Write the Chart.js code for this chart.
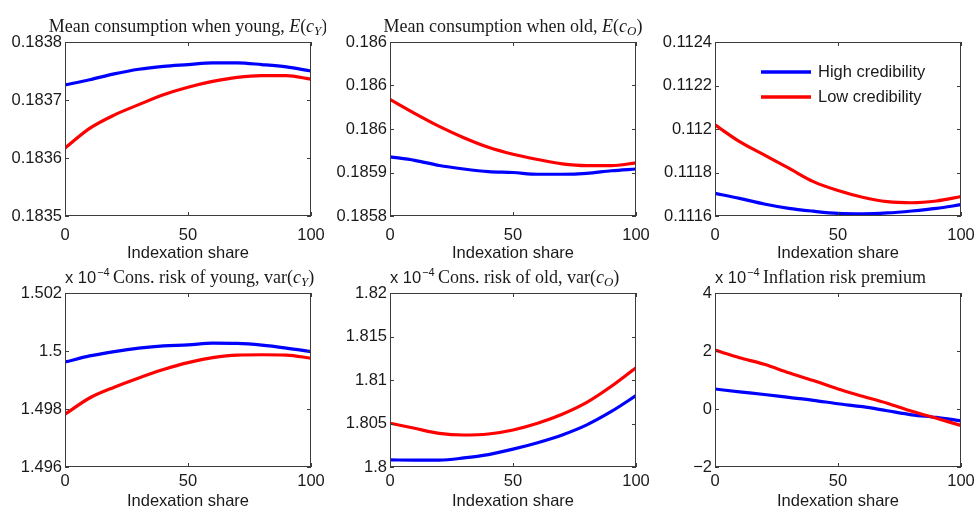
<!DOCTYPE html>
<html>
<head>
<meta charset="utf-8">
<script src="https://cdn.jsdelivr.net/npm/chart.js@4"></script>
<style>
  html, body { margin: 0; padding: 0; background: #fff; overflow: hidden; }
  #wrap { position: relative; width: 975px; height: 506px; }
  canvas { position: absolute; }
</style>
</head>
<body>
<div id="wrap">
  <canvas id="c1"></canvas>
  <canvas id="c2"></canvas>
  <canvas id="c3"></canvas>
  <canvas id="c4"></canvas>
  <canvas id="c5"></canvas>
  <canvas id="c6"></canvas>
</div>
<script>
// Indexation share (x axis)
const xShare = [0, 10, 20, 30, 40, 50, 60, 70, 80, 90, 100];
const xTicks = [0, 50, 100];

// Mean consumption when young
const youngMeanHigh = [0.183726, 0.183735, 0.183745, 0.183753, 0.183758, 0.183761, 0.183764, 0.183764, 0.183761, 0.183757, 0.183750];
const youngMeanLow = [0.183617, 0.183651, 0.183674, 0.183692, 0.183709, 0.183722, 0.183732, 0.183739, 0.183742, 0.183742, 0.183736];
const youngMeanTicks = [0.1835, 0.1836, 0.1837, 0.1838];
const youngMeanLabels = ["0.1835", "0.1836", "0.1837", "0.1838"];

// Mean consumption when old
const oldMeanHigh = [0.185868, 0.185864, 0.185858, 0.185854, 0.185851, 0.185850, 0.185848, 0.185848, 0.185849, 0.185852, 0.185854];
const oldMeanLow = [0.185934, 0.185918, 0.185903, 0.185890, 0.185879, 0.185871, 0.185865, 0.185860, 0.185858, 0.185858, 0.185861];
const oldMeanTicks = [0.1858, 0.18585, 0.1859, 0.18595, 0.186];
const oldMeanLabels = ["0.1858", "0.1859", "0.186", "0.186", "0.186"];

// Third panel (no title)
const thirdHigh = [0.111704, 0.111681, 0.111655, 0.111635, 0.111622, 0.111612, 0.111610, 0.111614, 0.111623, 0.111635, 0.111652];
const thirdLow = [0.112019, 0.111942, 0.111881, 0.111820, 0.111758, 0.111717, 0.111686, 0.111666, 0.111661, 0.111669, 0.111689];
const thirdTicks = [0.1116, 0.1118, 0.112, 0.1122, 0.1124];
const thirdLabels = ["0.1116", "0.1118", "0.112", "0.1122", "0.1124"];

// Cons. risk of young (x 10^-4)
const youngRiskHigh = [1.49962, 1.49983, 1.49998, 1.50010, 1.50018, 1.50021, 1.50027, 1.50026, 1.50020, 1.50010, 1.49998];
const youngRiskLow = [1.49782, 1.49838, 1.49875, 1.49907, 1.49936, 1.49960, 1.49977, 1.49986, 1.49987, 1.49986, 1.49975];
const youngRiskTicks = [1.496, 1.498, 1.5, 1.502];
const youngRiskLabels = ["1.496", "1.498", "1.5", "1.502"];

// Cons. risk of old (x 10^-4)
const oldRiskHigh = [1.80081, 1.80080, 1.80080, 1.80104, 1.80143, 1.80205, 1.80279, 1.80368, 1.80484, 1.80638, 1.80820];
const oldRiskLow = [1.80503, 1.80445, 1.80387, 1.80368, 1.80379, 1.80426, 1.80503, 1.80607, 1.80743, 1.80928, 1.81141];
const oldRiskTicks = [1.8, 1.805, 1.81, 1.815, 1.82];
const oldRiskLabels = ["1.8", "1.805", "1.81", "1.815", "1.82"];

// Inflation risk premium (x 10^-4)
const premiumHigh = [0.69, 0.59, 0.50, 0.40, 0.30, 0.18, 0.08, -0.06, -0.20, -0.29, -0.41];
const premiumLow = [2.03, 1.77, 1.54, 1.25, 0.98, 0.69, 0.44, 0.20, -0.08, -0.32, -0.57];
const premiumTicks = [-2, 0, 2, 4];
const premiumLabels = ["\u22122", "0", "2", "4"];

const seriesNames = ["High credibility", "Low credibility"];
const BLUE = "#0000ff";
const RED = "#ff0000";
const INK = "#1a1a1a";
const BOX = "#3c3c3c";
const SANS = "'Liberation Sans', Arial, sans-serif";
const SERIF = "'Liberation Serif', 'Times New Roman', serif";

// draws the box, inward ticks, the title and the key
const panelDecor = {
  id: "panelDecor",
  afterDraw(chart, args, opts) {
    const { ctx, chartArea: a, scales: { x, y } } = chart;
    ctx.save();
    ctx.strokeStyle = BOX;
    ctx.lineWidth = 1;
    ctx.beginPath();
    x.ticks.forEach(t => {
      const px = Math.round(x.getPixelForValue(t.value)) + 0.5;
      ctx.moveTo(px, a.bottom); ctx.lineTo(px, a.bottom - 4);
      ctx.moveTo(px, a.top); ctx.lineTo(px, a.top + 4);
    });
    y.ticks.forEach(t => {
      const py = Math.round(y.getPixelForValue(t.value)) + 0.5;
      ctx.moveTo(a.left, py); ctx.lineTo(a.left + 4, py);
      ctx.moveTo(a.right, py); ctx.lineTo(a.right - 4, py);
    });
    ctx.stroke();
    ctx.strokeRect(Math.round(a.left) + 0.5, Math.round(a.top) + 0.5, Math.round(a.width) - 1, Math.round(a.height) - 1);

    // title
    const base = a.top - 10;
    ctx.fillStyle = INK;
    ctx.textBaseline = "alphabetic";
    let tx;
    if (opts.exponent) {
      ctx.font = "16.5px " + SANS;
      ctx.fillText("x 10", a.left, base);
      const w = ctx.measureText("x 10").width;
      ctx.font = "11px " + SANS;
      ctx.fillText("\u22124", a.left + w + 1, base - 7);
      tx = a.left + 48;
    }
    const segs = opts.title || [];
    const fontFor = s => s[1] === "i" ? "italic 18px " + SERIF : s[1] === "s" ? "italic 13px " + SERIF : "18px " + SERIF;
    let total = 0;
    segs.forEach(s => { ctx.font = fontFor(s); total += ctx.measureText(s[0]).width; });
    if (tx === undefined) tx = (a.left + a.right) / 2 - total / 2;
    segs.forEach(s => {
      ctx.font = fontFor(s);
      ctx.fillText(s[0], tx, s[1] === "s" ? base + 3 : base);
      tx += ctx.measureText(s[0]).width;
    });

    // key
    if (opts.key) {
      ctx.font = "16.5px " + SANS;
      ctx.textBaseline = "middle";
      chart.data.datasets.forEach((ds, i) => {
        const ly = a.top + 30 + i * 25;
        const lx = a.left + 46;
        ctx.strokeStyle = ds.borderColor;
        ctx.lineWidth = 3.5;
        ctx.beginPath(); ctx.moveTo(lx, ly); ctx.lineTo(lx + 50, ly); ctx.stroke();
        ctx.fillStyle = INK;
        ctx.fillText(ds.label, lx + 57, ly);
      });
    }
    ctx.restore();
  }
};

function makePanel(id, left, top, high, low, ticks, labels, title, extra) {
  extra = extra || {};
  const plotW = 246, plotH = 174;
  const bottomH = extra.row2 ? 44 : 47;
  const tickPad = extra.row2 ? 5 : 10;
  const canvas = document.getElementById(id);
  canvas.width = 65 + plotW + 15;
  canvas.height = 42 + plotH + bottomH;
  canvas.style.left = (left - 65) + "px";
  canvas.style.top = (top - 42) + "px";
  const pts = vals => xShare.map((xv, i) => ({ x: xv, y: vals[i] }));
  const font = { family: SANS, size: 16.5 };
  new Chart(canvas, {
    type: "line",
    data: {
      datasets: [
        { label: seriesNames[0], data: pts(high), borderColor: BLUE, borderWidth: 3.2, pointRadius: 0, cubicInterpolationMode: "monotone", order: 1 },
        { label: seriesNames[1], data: pts(low), borderColor: RED, borderWidth: 3.2, pointRadius: 0, cubicInterpolationMode: "monotone", order: 0 },
      ],
    },
    options: {
      responsive: false,
      animation: false,
      layout: { padding: { top: 42, right: 15, left: 0, bottom: 0 } },
      plugins: {
        legend: { display: false },
        tooltip: { enabled: false },
        panelDecor: Object.assign({ title: title }, extra),
      },
      scales: {
        x: {
          type: "linear",
          min: 0,
          max: 100,
          afterBuildTicks: s => { s.ticks = xTicks.map(v => ({ value: v })); },
          afterFit: s => { s.height = bottomH; s.paddingLeft = 0; s.paddingRight = 0; },
          grid: { display: false, drawTicks: false },
          border: { display: false },
          ticks: { font, color: INK, padding: tickPad, maxRotation: 0, autoSkip: false },
          title: { display: true, text: "Indexation share", font, color: INK, padding: 0 },
        },
        y: {
          min: ticks[0],
          max: ticks[ticks.length - 1],
          afterBuildTicks: s => { s.ticks = ticks.map(v => ({ value: v })); },
          afterFit: s => { s.width = 65; },
          grid: { display: false, drawTicks: false },
          border: { display: false },
          ticks: { font, color: INK, padding: 3, autoSkip: false, callback: (v, i) => labels[i] },
        },
      },
    },
    plugins: [panelDecor],
  });
}

makePanel("c1", 65, 42, youngMeanHigh, youngMeanLow, youngMeanTicks, youngMeanLabels,
  [["Mean consumption when young, ", "r"], ["E", "i"], ["(", "r"], ["c", "i"], ["Y", "s"], [")", "r"]]);
makePanel("c2", 390, 42, oldMeanHigh, oldMeanLow, oldMeanTicks, oldMeanLabels,
  [["Mean consumption when old, ", "r"], ["E", "i"], ["(", "r"], ["c", "i"], ["O", "s"], [")", "r"]]);
makePanel("c3", 715, 42, thirdHigh, thirdLow, thirdTicks, thirdLabels, [], { key: true });
makePanel("c4", 65, 293, youngRiskHigh, youngRiskLow, youngRiskTicks, youngRiskLabels,
  [["Cons. risk of young, var(", "r"], ["c", "i"], ["Y", "s"], [")", "r"]], { exponent: true, row2: true });
makePanel("c5", 390, 293, oldRiskHigh, oldRiskLow, oldRiskTicks, oldRiskLabels,
  [["Cons. risk of old, var(", "r"], ["c", "i"], ["O", "s"], [")", "r"]], { exponent: true, row2: true });
makePanel("c6", 715, 293, premiumHigh, premiumLow, premiumTicks, premiumLabels,
  [["Inflation risk premium", "r"]], { exponent: true, row2: true });
</script>
</body>
</html>
